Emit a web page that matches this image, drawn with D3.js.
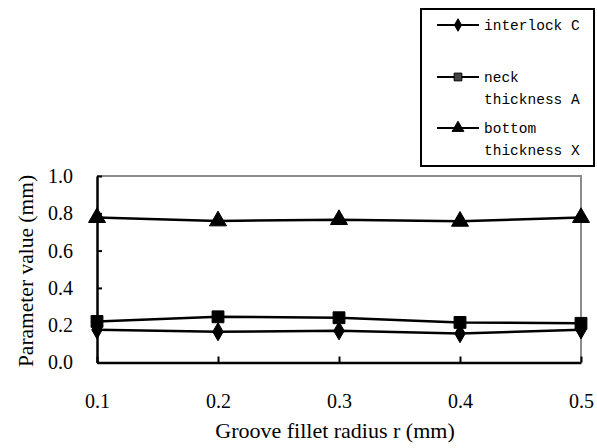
<!DOCTYPE html>
<html>
<head>
<meta charset="utf-8">
<title>Groove fillet radius</title>
<script src="https://cdn.jsdelivr.net/npm/d3@7/dist/d3.min.js"></script>
<style>
  *{margin:0;padding:0;}
  body{background:#fff;}
</style>
</head>
<body>
<div id="show"></div>
<script>
  // data
  var radius = [0.1, 0.2, 0.3, 0.4, 0.5];
  var interlockC = [0.175, 0.165, 0.17, 0.155, 0.175];
  var neckA = [0.22, 0.245, 0.24, 0.215, 0.21];
  var bottomX = [0.777, 0.759, 0.766, 0.757, 0.777];
  var yTicks = [0, 0.2, 0.4, 0.6, 0.8, 1.0];
  var seriesNames = [["interlock C"], ["neck", "thickness A"], ["bottom", "thickness X"]];

  var W = 597, H = 448;
  var svg = d3.select("#show").append("svg").attr("width", W).attr("height", H);

  var x = d3.scaleLinear().domain([0.1, 0.5]).range([97, 581]);
  var y = d3.scaleLinear().domain([0, 1]).range([362.5, 176]);

  // frame: grey top/right
  svg.append("path")
     .attr("d", "M" + x(0.1) + "," + y(1) + "H" + x(0.5) + "V" + y(0))
     .attr("fill", "none").attr("stroke", "#8c8c8c").attr("stroke-width", 2);

  var serif = "'Liberation Serif', 'Times New Roman', serif";

  // x axis
  var xAx = svg.append("g").attr("transform", "translate(0," + y(0) + ")")
     .call(d3.axisBottom(x).tickValues(radius).tickSizeInner(-6).tickSizeOuter(0).tickPadding(31)
           .tickFormat(d3.format(".1f")));
  // y axis
  var yAx = svg.append("g").attr("transform", "translate(" + x(0.1) + ",0)")
     .call(d3.axisLeft(y).tickValues(yTicks).tickSizeInner(-5).tickSizeOuter(0).tickPadding(24)
           .tickFormat(d3.format(".1f")));
  [xAx, yAx].forEach(function(a){
    a.select(".domain").attr("stroke", "#000").attr("stroke-width", 2.5);
    a.selectAll(".tick line").attr("stroke", "#000").attr("stroke-width", 2);
    a.selectAll(".tick text").attr("fill", "#000")
     .style("font-family", serif).style("font-size", "20px");
  });

  svg.append("text").attr("x", 335).attr("y", 438).attr("text-anchor", "middle")
     .style("font-family", serif).style("font-size", "22px")
     .text("Groove fillet radius r (mm)");
  svg.append("text").attr("transform", "translate(33,271) rotate(-90)").attr("text-anchor", "middle")
     .style("font-family", serif).style("font-size", "21.5px")
     .text("Parameter value (mm)");

  var symbols = [d3.symbolDiamond, d3.symbolSquare, d3.symbolTriangle];
  var sizes = [95, 140, 125];
  var allSeries = [interlockC, neckA, bottomX];

  var line = d3.line().x(function(d, i){ return x(radius[i]); }).y(function(d){ return y(d); });

  allSeries.forEach(function(vals, k){
    svg.append("path").datum(vals).attr("d", line)
       .attr("fill", "none").attr("stroke", "#000").attr("stroke-width", 2.5);
  });
  allSeries.forEach(function(vals, k){
    svg.selectAll(".m" + k).data(vals).enter().append("path")
       .attr("transform", function(d, i){ return "translate(" + x(radius[i]) + "," + y(d) + ")"; })
       .attr("d", d3.symbol().type(symbols[k]).size(sizes[k]))
       .attr("fill", "#000").attr("stroke", "#000").attr("stroke-width", 1).attr("stroke-linejoin", "round");
  });

  // legend
  var lg = svg.append("g");
  lg.append("rect").attr("x", 421).attr("y", 9).attr("width", 173).attr("height", 157)
    .attr("fill", "#fff").attr("stroke", "#000").attr("stroke-width", 2);
  var rowY = [25, 77, 128];
  var legSizes = [45, 60, 60];
  seriesNames.forEach(function(lines, k){
    lg.append("line").attr("x1", 437).attr("x2", 479).attr("y1", rowY[k]).attr("y2", rowY[k])
      .attr("stroke", "#000").attr("stroke-width", 2);
    lg.append("path").attr("transform", "translate(458," + rowY[k] + ")")
      .attr("d", d3.symbol().type(symbols[k]).size(legSizes[k]))
      .attr("fill", k == 1 ? "#444" : "#000").attr("stroke", "#000").attr("stroke-width", 1);
    lines.forEach(function(t, j){
      lg.append("text").attr("x", 484).attr("y", rowY[k] + 5 + j * 22)
        .style("font-family", "'Liberation Mono', 'DejaVu Sans Mono', monospace").style("font-size", "14.5px")
        .text(t);
    });
  });
</script>
</body>
</html>
